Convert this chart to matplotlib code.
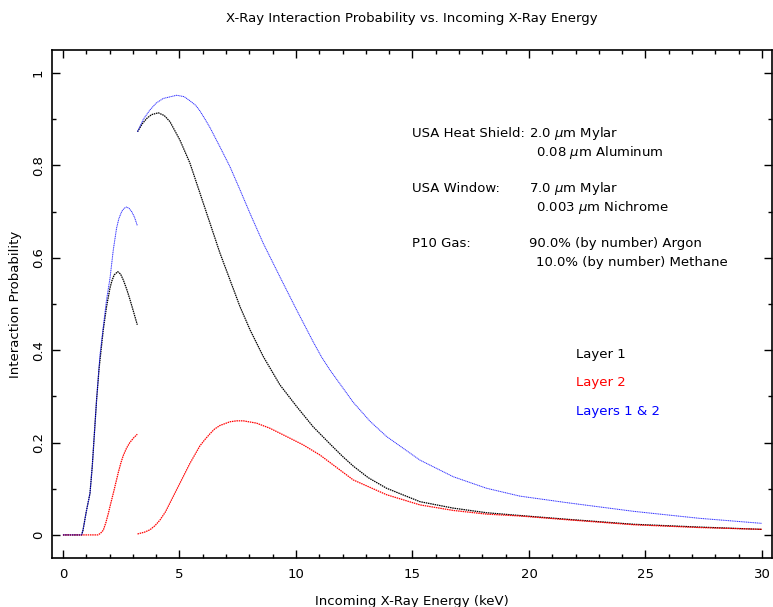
import matplotlib
matplotlib.use("Agg")
import matplotlib.pyplot as plt
from matplotlib.ticker import MultipleLocator, FuncFormatter

# values (energy in keV, probability)
# below the Argon K-edge (~3.2 keV)
e_black_lo = [0, 0.8, 0.86, 1.0, 1.16, 1.26, 1.35, 1.44, 1.55, 1.73, 1.87, 2.02, 2.1, 2.2, 2.35,
              2.47, 2.59, 2.73, 2.88, 3.03, 3.19]
p_black_lo = [0, 0, 0.01, 0.05, 0.09, 0.15, 0.22, 0.29, 0.36, 0.444, 0.494, 0.535, 0.55, 0.563, 0.57,
              0.565, 0.552, 0.533, 0.509, 0.483, 0.455]

e_red_lo = [0, 1.5, 1.6, 1.73, 1.85, 1.95, 2.05, 2.16, 2.37, 2.48, 2.59, 2.73, 2.87, 3.03, 3.19]
p_red_lo = [0, 0, 0.003, 0.01, 0.028, 0.047, 0.068, 0.09, 0.134, 0.155, 0.172, 0.188, 0.2, 0.21, 0.218]

e_blue_lo = [0, 0.8, 0.86, 1.0, 1.16, 1.26, 1.35, 1.44, 1.59, 1.73, 1.87, 2.02, 2.16, 2.3, 2.4,
             2.52, 2.62, 2.73, 2.84, 2.95, 3.07, 3.19]
p_blue_lo = [0, 0, 0.01, 0.05, 0.09, 0.15, 0.22, 0.29, 0.39, 0.45, 0.509, 0.556, 0.617, 0.664, 0.685,
             0.70, 0.707, 0.71, 0.707, 0.70, 0.688, 0.67]

# above the edge
e_black_hi = [3.2, 3.4, 3.6, 3.8, 4.09, 4.35, 4.59, 5.02, 5.45, 5.88, 6.31, 6.74, 7.17, 7.6, 8.03, 8.6,
              9.31, 10.03, 10.74, 11.46, 12.0, 12.46, 13.1, 13.89, 15.32, 16.75, 18.18, 19.61, 21.6,
              24.5, 27.3, 30.0]
p_black_hi = [0.873, 0.89, 0.902, 0.91, 0.914, 0.908, 0.895, 0.855, 0.805, 0.74, 0.675, 0.61, 0.552, 0.494,
              0.444, 0.386, 0.325, 0.278, 0.234, 0.197, 0.17, 0.149, 0.124, 0.101, 0.072, 0.058, 0.048,
              0.042, 0.034, 0.023, 0.017, 0.012]

e_red_hi = [3.2, 3.5, 3.73, 3.95, 4.16, 4.4, 4.59, 5.02, 5.45, 5.88, 6.1, 6.31, 6.5, 6.74, 7.17, 7.45, 7.74,
            8.31, 8.88, 9.6, 10.31, 11.03, 12.46, 13.89, 15.32, 16.75, 18.18, 19.61, 21.6, 24.5, 27.3, 30.0]
p_red_hi = [0.002, 0.006, 0.011, 0.02, 0.032, 0.05, 0.069, 0.112, 0.155, 0.193, 0.207, 0.219, 0.229, 0.237,
            0.245, 0.247, 0.247, 0.242, 0.231, 0.213, 0.195, 0.173, 0.119, 0.087, 0.065, 0.053, 0.045,
            0.041, 0.033, 0.022, 0.016, 0.012]

e_blue_hi = [3.2, 3.45, 3.73, 4.0, 4.3, 4.88, 5.2, 5.45, 5.7, 5.88, 6.1, 6.31, 6.74, 7.17, 7.6, 8.03, 8.6,
             9.31, 10.03, 10.74, 11.1, 11.46, 12.46, 13.18, 13.89, 15.32, 16.75, 18.18, 19.61, 21.6, 24.5,
             27.3, 30.0]
p_blue_hi = [0.873, 0.90, 0.92, 0.935, 0.945, 0.952, 0.949, 0.94, 0.93, 0.918, 0.9, 0.882, 0.84, 0.797, 0.747,
             0.696, 0.631, 0.559, 0.487, 0.418, 0.385, 0.357, 0.287, 0.246, 0.213, 0.162, 0.126, 0.101, 0.084,
             0.070, 0.051, 0.036, 0.025]

info_left = ["USA Heat Shield:", "", "USA Window:", "", "P10 Gas:", ""]
info_right = ["2.0 $\\mu$m Mylar", "0.08 $\\mu$m Aluminum", "7.0 $\\mu$m Mylar",
              "0.003 $\\mu$m Nichrome", "90.0% (by number) Argon", "10.0% (by number) Methane"]
legend_names = ["Layer 1", "Layer 2", "Layers 1 & 2"]
colors = ["black", "red", "blue"]

plt.rcParams['font.family'] = ['DejaVu Sans']
plt.rcParams['mathtext.fontset'] = 'dejavusans'
fs = 9.5

fig = plt.figure(figsize=(7.73, 6.07), dpi=100)
ax = fig.add_axes([52/773, 1-558/607, 720/773, 508/607])

ls = (0, (1.2, 0.6))
lw = 0.9
ax.plot(e_black_lo, p_black_lo, color="black", lw=lw, ls=ls)
ax.plot(e_black_hi, p_black_hi, color="black", lw=lw, ls=ls)
ax.plot(e_red_lo, p_red_lo, color="red", lw=lw, ls=ls)
ax.plot(e_red_hi, p_red_hi, color="red", lw=lw, ls=ls)
ax.plot(e_blue_lo, p_blue_lo, color="blue", lw=lw*0.8, ls=ls, alpha=0.8)
ax.plot(e_blue_hi, p_blue_hi, color="blue", lw=lw*0.8, ls=ls, alpha=0.8)

ax.set_xlim(-0.47, 30.43)
ax.set_ylim(-0.05, 1.05)

ax.xaxis.set_major_locator(MultipleLocator(5))
ax.xaxis.set_minor_locator(MultipleLocator(1))
ax.yaxis.set_major_locator(MultipleLocator(0.2))
ax.yaxis.set_minor_locator(MultipleLocator(0.1))
ax.yaxis.set_major_formatter(FuncFormatter(lambda v, p: "%g" % round(v, 2)))
ax.tick_params(which="both", direction="in", top=True, right=True, width=1.0, labelsize=fs)
ax.tick_params(which="major", length=6)
ax.tick_params(which="minor", length=3)
ax.tick_params(axis="x", pad=7)
ax.tick_params(axis="y", labelrotation=90, pad=5)
for lab in ax.get_yticklabels():
    lab.set_va("center")
for s in ax.spines.values():
    s.set_linewidth(1.2)

ax.set_xlabel("Incoming X-Ray Energy (keV)", fontsize=fs, labelpad=10)
ax.set_ylabel("Interaction Probability", fontsize=fs, labelpad=7)
ax.set_title("X-Ray Interaction Probability vs. Incoming X-Ray Energy", fontsize=fs, pad=20)

# annotation block
rows_y = [0.87, 0.827, 0.751, 0.708, 0.632, 0.589]
for i in range(len(info_right)):
    if info_left[i]:
        ax.text(15.0, rows_y[i], info_left[i], fontsize=fs, va="center")
    x2 = 20.0 if i % 2 == 0 else 20.3
    ax.text(x2, rows_y[i], info_right[i], fontsize=fs, va="center")

leg_y = [0.39, 0.329, 0.268]
for name, c, y in zip(legend_names, colors, leg_y):
    ax.text(22.0, y, name, color=c, fontsize=fs, va="center")

fig.savefig("out.png", dpi=100)
